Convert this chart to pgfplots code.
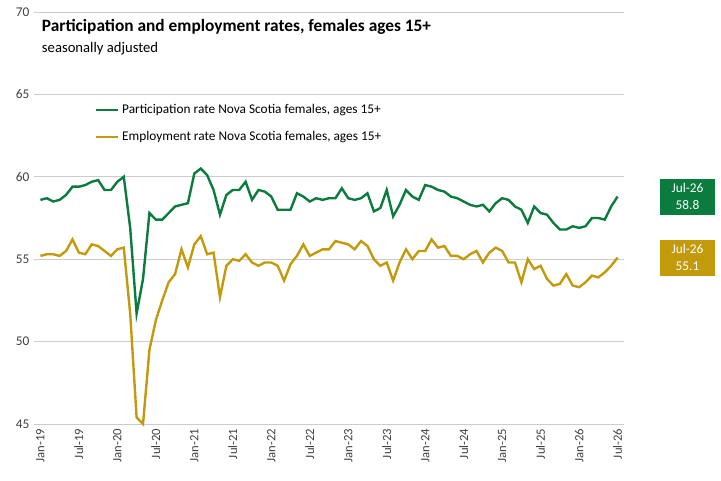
\documentclass[border=0pt]{standalone}
\usepackage{pgfplots}
\pgfplotsset{compat=1.18}
\usepackage{fontspec}
\setmainfont{Carlito}
\definecolor{pgreen}{HTML}{0B7B3E}
\definecolor{egold}{HTML}{C29A0C}
\begin{document}
\begin{tikzpicture}
\useasboundingbox (-25.5pt,-42.75pt) rectangle (515.25pt,318pt);
\begin{axis}[at={(0,0)},anchor=south west,scale only axis,
width=442.5pt,height=309pt,
xmin=-1,xmax=91,ymin=45,ymax=70,
ytick={45,50,...,70},
xtick={0,6,...,90},
xticklabels={Jan-19,Jul-19,Jan-20,Jul-20,Jan-21,Jul-21,Jan-22,Jul-22,Jan-23,Jul-23,Jan-24,Jul-24,Jan-25,Jul-25,Jan-26,Jul-26},
x tick label style={rotate=90,anchor=east,font=\fontsize{9.5}{11}\selectfont,text=black!75},
y tick label style={font=\fontsize{10}{12}\selectfont,text=black!75},
/pgf/number format/assume math mode=true,
axis line style={draw=none},
ymajorgrids, grid style={black!20,line width=0.6pt},
major tick length=0pt,
xtick style={draw=none},ytick style={draw=none},
clip=false,
legend style={draw=none,at={(0.095,0.79)},anchor=north west,font=\fontsize{10}{12}\selectfont,fill=none,row sep=8pt},
legend cell align=left,
]
\addplot[pgreen,line width=1.8pt] coordinates {
(0,58.6)(1,58.7)(2,58.5)(3,58.6)(4,58.9)(5,59.4)(6,59.4)(7,59.5)(8,59.7)(9,59.8)(10,59.2)(11,59.2)
(12,59.7)(13,60.0)(14,56.9)(15,51.7)(16,53.8)(17,57.8)(18,57.4)(19,57.4)(20,57.8)(21,58.2)(22,58.3)(23,58.4)
(24,60.2)(25,60.5)(26,60.1)(27,59.2)(28,57.7)(29,58.9)(30,59.2)(31,59.2)(32,59.7)(33,58.6)(34,59.2)(35,59.1)
(36,58.8)(37,58.0)(38,58.0)(39,58.0)(40,59.0)(41,58.8)(42,58.5)(43,58.7)(44,58.6)(45,58.7)(46,58.7)(47,59.3)
(48,58.7)(49,58.6)(50,58.7)(51,59.0)(52,57.9)(53,58.1)(54,59.2)(55,57.6)(56,58.3)(57,59.2)(58,58.8)(59,58.6)
(60,59.5)(61,59.4)(62,59.2)(63,59.1)(64,58.8)(65,58.7)(66,58.5)(67,58.3)(68,58.2)(69,58.3)(70,57.9)(71,58.4)
(72,58.7)(73,58.6)(74,58.2)(75,58.0)(76,57.2)(77,58.2)(78,57.8)(79,57.7)(80,57.2)(81,56.8)(82,56.8)(83,57.0)
(84,56.9)(85,57.0)(86,57.5)(87,57.5)(88,57.4)(89,58.2)(90,58.8)};
\addlegendentry{Participation rate Nova Scotia females, ages 15+}
\addplot[egold,line width=1.8pt] coordinates {
(0,55.2)(1,55.3)(2,55.3)(3,55.2)(4,55.5)(5,56.2)(6,55.4)(7,55.3)(8,55.9)(9,55.8)(10,55.5)(11,55.2)
(12,55.6)(13,55.7)(14,51.7)(15,45.4)(16,45.0)(17,49.5)(18,51.3)(19,52.5)(20,53.6)(21,54.1)(22,55.6)(23,54.5)
(24,55.9)(25,56.4)(26,55.3)(27,55.4)(28,52.7)(29,54.6)(30,55.0)(31,54.9)(32,55.3)(33,54.8)(34,54.6)(35,54.8)
(36,54.8)(37,54.6)(38,53.7)(39,54.7)(40,55.2)(41,55.9)(42,55.2)(43,55.4)(44,55.6)(45,55.6)(46,56.1)(47,56.0)
(48,55.9)(49,55.6)(50,56.1)(51,55.8)(52,55.0)(53,54.6)(54,54.8)(55,53.7)(56,54.8)(57,55.6)(58,55.0)(59,55.5)
(60,55.5)(61,56.2)(62,55.7)(63,55.8)(64,55.2)(65,55.2)(66,55.0)(67,55.3)(68,55.5)(69,54.8)(70,55.4)(71,55.7)
(72,55.5)(73,54.8)(74,54.8)(75,53.6)(76,55.0)(77,54.4)(78,54.6)(79,53.8)(80,53.4)(81,53.5)(82,54.1)(83,53.4)
(84,53.3)(85,53.6)(86,54.0)(87,53.9)(88,54.2)(89,54.6)(90,55.1)};
\addlegendentry{Employment rate Nova Scotia females, ages 15+}
\node[fill=pgreen,draw=white,text=white,font=\fontsize{10}{13}\selectfont,align=center,minimum width=42pt,minimum height=28pt,inner sep=1pt] at (axis cs:100.9,58.8) {Jul-26\\58.8};
\node[fill=egold,draw=white,text=white,font=\fontsize{10}{13}\selectfont,align=center,minimum width=42pt,minimum height=28pt,inner sep=1pt] at (axis cs:100.9,55.1) {Jul-26\\55.1};
\node[anchor=north west,font=\bfseries\fontsize{13}{15}\selectfont,inner sep=0pt] at (axis cs:0.2,69.6) {Participation and employment rates, females ages 15+};
\node[anchor=north west,font=\fontsize{11}{13}\selectfont,inner sep=0pt] at (axis cs:0.2,68.2) {seasonally adjusted};
\end{axis}
\end{tikzpicture}
\end{document}
